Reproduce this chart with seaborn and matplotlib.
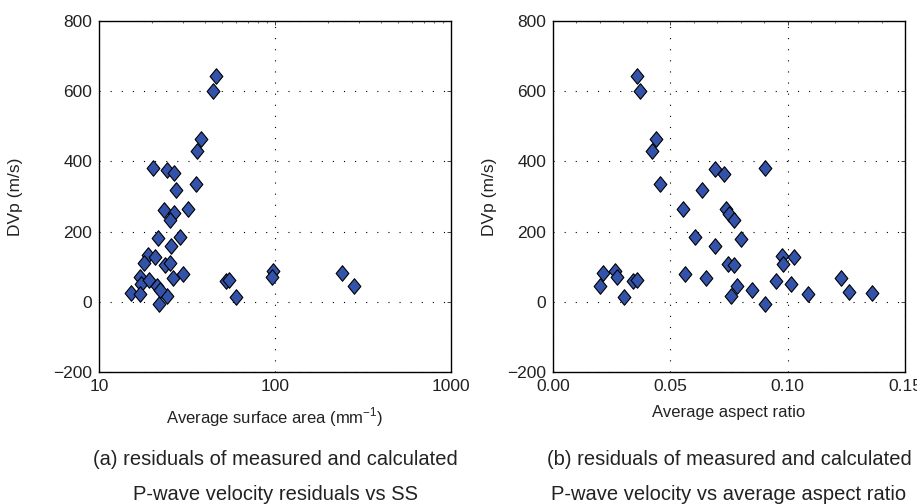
import numpy as np
import pandas as pd
import matplotlib
matplotlib.use("Agg")
import matplotlib.pyplot as plt
import seaborn as sns
from matplotlib.path import Path
from matplotlib.ticker import FixedLocator, FuncFormatter, MultipleLocator

# Data
# (a) DVp vs average surface area (mm^-1)
ss_area = [46.0, 44.5, 38.0, 35.9, 35.4, 20.2, 24.3, 26.8, 27.4, 32.1,
           23.3, 26.6, 25.2, 21.6, 29.0, 25.5, 18.9, 20.9, 17.9, 23.6,
           25.4, 26.3, 29.9, 17.0, 17.3, 19.3, 21.3, 15.1, 17.1, 24.3,
           21.8, 22.2, 52.5, 54.8, 59.6, 97.8, 95.7, 239, 280]
ss_dvp = [643, 600, 465, 430, 336, 382, 377, 366, 318, 265,
          262, 254, 233, 181, 185, 159, 134, 127, 110, 105,
          110, 69, 79, 72, 50, 61, 44, 25, 22, 17,
          -6, 34, 58, 61, 15, 89, 70, 83, 44]

# (b) DVp vs average aspect ratio
ar = [0.0358, 0.0370, 0.0437, 0.0421, 0.0454, 0.0555, 0.0637, 0.0690, 0.0730, 0.0905,
      0.0737, 0.0748, 0.0772, 0.0799, 0.0607, 0.0691, 0.0747, 0.0772, 0.0974, 0.0981,
      0.1026, 0.0563, 0.0651, 0.0782, 0.0757, 0.0848, 0.0905, 0.0949, 0.1014, 0.1088,
      0.1229, 0.1259, 0.1361, 0.0213, 0.0199, 0.0263, 0.0273, 0.0303, 0.0341, 0.0360]
ar_dvp = [643, 600, 465, 430, 336, 264, 318, 378, 365, 382,
          264, 249, 232, 180, 184, 159, 108, 105, 130, 108,
          128, 79, 69, 44, 17, 33, -6, 60, 51, 23,
          68, 27, 25, 83, 44, 89, 70, 14, 58, 61]

df_a = pd.DataFrame({"area": ss_area, "dvp": ss_dvp})
df_b = pd.DataFrame({"ar": ar, "dvp": ar_dvp})

sns.set_style("white")
plt.rcParams['font.family'] = ['Liberation Sans', 'DejaVu Sans']

fig = plt.figure(figsize=(9.17, 5.04), dpi=100)
ax1 = fig.add_axes([0.108, 0.262, 0.384, 0.696])
ax2 = fig.add_axes([0.603, 0.262, 0.384, 0.696])

# slightly tall diamond, like the reference markers
diamond = Path([(0, 1), (0.82, 0), (0, -1), (-0.82, 0), (0, 1)],
               [Path.MOVETO, Path.LINETO, Path.LINETO, Path.LINETO, Path.CLOSEPOLY])
mk = dict(marker=diamond, s=125, color="#3353aa", edgecolor="black", linewidth=0.8, zorder=3)

sns.scatterplot(data=df_a, x="area", y="dvp", ax=ax1, **mk)
ax1.set_xscale("log")
ax1.set_xlim(10, 1000)
ax1.xaxis.set_major_locator(FixedLocator([10, 100, 1000]))
ax1.xaxis.set_major_formatter(FuncFormatter(lambda v, p: f"{v:g}"))
ax1.set_xlabel("Average surface area (mm$^{\\mathregular{-1}}$)")

sns.scatterplot(data=df_b, x="ar", y="dvp", ax=ax2, **mk)
ax2.set_xlim(0, 0.15)
ax2.set_xticks([0, 0.05, 0.10, 0.15])
ax2.set_xticklabels(["0.00", "0.05", "0.10", "0.15"])
ax2.xaxis.set_minor_locator(MultipleLocator(0.01))
ax2.set_xlabel("Average aspect ratio")

for ax, lx in ((ax1, -0.216), (ax2, -0.16)):
    ax.set_ylim(-200, 800)
    ax.set_yticks([-200, 0, 200, 400, 600, 800])
    ax.set_yticklabels(["\u2212200", "0", "200", "400", "600", "800"])
    ax.set_ylabel("DVp (m/s)", fontsize=12.5, color="#222222")
    ax.yaxis.set_label_coords(lx, 0.5)
    ax.xaxis.label.set_size(12)
    ax.xaxis.label.set_color("#222222")
    ax.xaxis.labelpad = 8
    ax.grid(True, which="major", color="black", linestyle=(0, (1, 9)), linewidth=0.8)
    ax.grid(False, which="minor")
    ax.tick_params(direction="in", length=3, width=0.6, labelsize=12.5, pad=5,
                   labelcolor="#222222", top=True, right=True)
    ax.tick_params(which="minor", direction="in", length=1.5, width=0.5, top=True, left=False, right=False)
    for sp in ax.spines.values():
        sp.set_color("black")
        sp.set_linewidth(1.0)

fig.text(0.300, 0.077, "(a) residuals of measured and calculated", ha="center", fontsize=14.5, color="#222222")
fig.text(0.300, 0.008, "P-wave velocity residuals vs SS", ha="center", fontsize=14.5, color="#222222")
fig.text(0.795, 0.077, "(b) residuals of measured and calculated", ha="center", fontsize=14.5, color="#222222")
fig.text(0.795, 0.008, "P-wave velocity vs average aspect ratio", ha="center", fontsize=14.5, color="#222222")

fig.savefig("out.png", dpi=100)
